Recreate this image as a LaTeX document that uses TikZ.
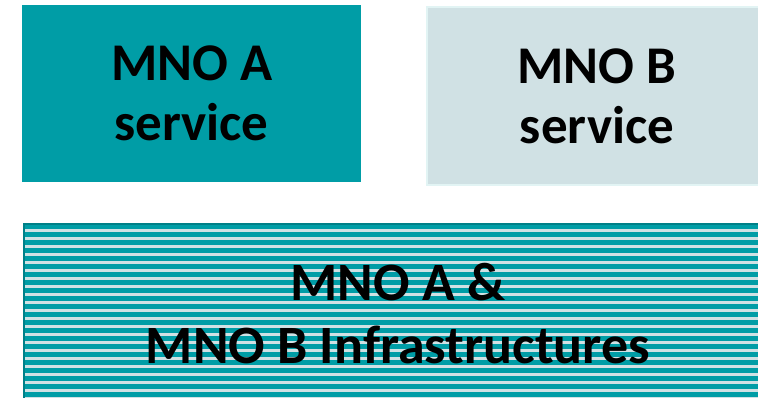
\documentclass[tikz,border=0pt]{standalone}
\usepackage{fontspec}
\setmainfont{Carlito}
\usetikzlibrary{positioning}

\definecolor{mnoteal}{RGB}{0,157,166}
\definecolor{mnolight}{RGB}{208,225,228}
\definecolor{mnoedge}{RGB}{226,244,244}
\definecolor{mnodark}{RGB}{0,128,136}

\tikzset{
	svcbox/.style={anchor=north west,inner sep=0pt,align=center,
		font=\bfseries\fontsize{53}{60}\selectfont},
	infrabox/.style={anchor=north west,inner sep=0pt,align=center,
		fill=mnolight,draw=mnodark,line width=2pt,
		font=\bfseries\fontsize{54}{63}\selectfont}
}

\begin{document}
\begin{tikzpicture}[x=1pt,y=-1pt]
		\def\sp{8}
		\useasboundingbox (0,0) rectangle (758,397);
		\clip (0,0) rectangle (758,397);
		% service boxes
		\node[svcbox,fill=mnoteal,minimum width=339pt,minimum height=177pt] (mnoA) at (22,5) {MNO A\\service};
		\node[svcbox,fill=mnolight,draw=mnoedge,line width=2pt,minimum width=340pt,minimum height=178pt] (mnoB) at (426,6) {MNO B\\service};
		% shared infrastructure, striped
		\node[infrabox,minimum width=748pt,minimum height=180pt,
		path picture={
			\foreach \k in {0,...,24}
			\fill[mnoteal] ([yshift=-\k*\sp pt]path picture bounding box.north west) rectangle ([yshift=-\k*\sp pt-4.6pt]path picture bounding box.north east);
		}] (infra) at (23,223) {MNO A \&\\MNO B Infrastructures};
		\end{tikzpicture}
\end{document}
